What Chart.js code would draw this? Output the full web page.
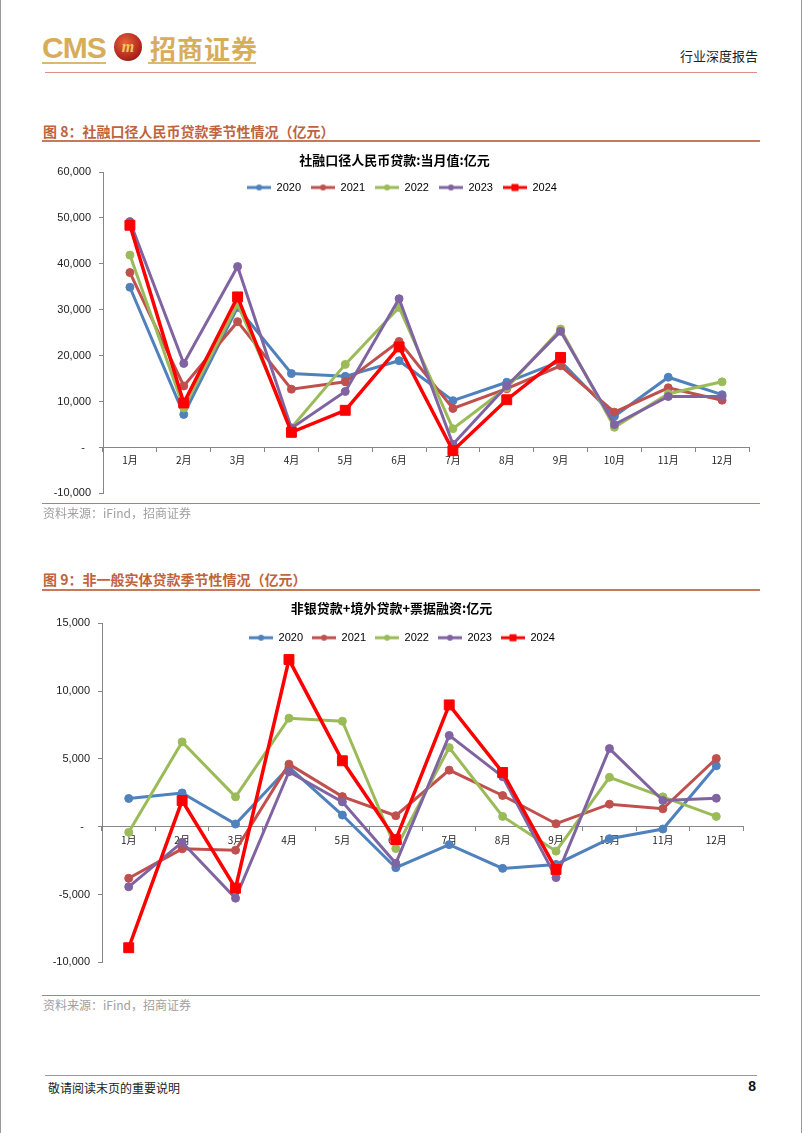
<!DOCTYPE html>
<html lang="zh-CN">
  <head>
    <meta charset="utf-8" />
    <title>社融口径人民币贷款季节性情况</title>
    <style>
      * {
        margin: 0;
        padding: 0;
      }
      body {
        width: 802px;
        height: 1133px;
        position: relative;
        background: #fff;
        font-family: "Liberation Sans", "Noto Sans CJK SC", sans-serif;
        overflow: hidden;
      }
      .abs {
        position: absolute;
      }
      .edge {
        position: absolute;
        top: 0;
        width: 1px;
        height: 1133px;
        background: #9a9a9a;
      }
      .logo {
        left: 42px;
        top: 31px;
        color: #d7ad5c;
        font-size: 30px;
        font-weight: bold;
        letter-spacing: -1px;
        font-family: "Liberation Sans Narrow", "Liberation Sans", sans-serif;
      }
      .logo2 {
        left: 150px;
        top: 29px;
        color: #d7ad5c;
        font-size: 26px;
        font-weight: bold;
        font-family: "Noto Sans CJK SC", sans-serif;
        letter-spacing: 1px;
      }
      .badge {
        left: 114px;
        top: 33px;
        width: 28px;
        height: 28px;
        border-radius: 50%;
        background: radial-gradient(circle at 40% 35%, #e8643a, #a8201a 70%, #7a1410);
        color: #f3c85b;
        font: italic bold 16px "Liberation Serif", serif;
        text-align: center;
        line-height: 28px;
      }
      .gold {
        height: 2px;
        background: #d9b874;
        top: 62px;
      }
      .report {
        right: 44px;
        top: 46px;
        font-size: 13px;
        color: #222;
        font-family: "Noto Sans CJK SC", sans-serif;
      }
      .figtitle {
        left: 43px;
        font-size: 14px;
        font-weight: bold;
        color: #c0633c;
        font-family: "Noto Sans CJK SC", sans-serif;
      }
      .rule {
        left: 42px;
        width: 718px;
        background: #c77a5a;
      }
      .source {
        left: 43px;
        font-size: 12px;
        color: #a0a0a0;
        font-family: "Noto Sans CJK SC", sans-serif;
      }
      .chartBox {
        position: absolute;
        left: 40px;
        width: 720px;
      }
    </style>
  </head>
  <body>
    <div class="edge" style="left: 0"></div>
    <div class="edge" style="left: 801px"></div>

    <div class="abs logo">CMS</div>
    <div class="abs badge">m</div>
    <div class="abs logo2">招商证券</div>
    <div class="abs gold" style="left: 42px; width: 64px"></div>
    <div class="abs gold" style="left: 148px; width: 108px"></div>
    <div class="abs report">行业深度报告</div>
    <div class="abs" style="left: 45px; top: 72px; width: 712px; height: 1px; background: #dd8f86"></div>

    <div class="abs figtitle" style="top: 121px">图 8：社融口径人民币贷款季节性情况（亿元）</div>
    <div class="abs rule" style="top: 140px; height: 2px"></div>
    <div class="chartBox" style="top: 148px; height: 360px">
      <canvas id="chart1" width="720" height="360"></canvas>
    </div>
    <div class="abs rule" style="top: 503px; height: 1px"></div>
    <div class="abs source" style="top: 504px">资料来源：iFind，招商证券</div>

    <div class="abs figtitle" style="top: 569px">图 9：非一般实体贷款季节性情况（亿元）</div>
    <div class="abs rule" style="top: 589px; height: 2px"></div>
    <div class="chartBox" style="top: 596px; height: 381px">
      <canvas id="chart2" width="720" height="381"></canvas>
    </div>
    <div class="abs rule" style="top: 995px; height: 1px"></div>
    <div class="abs source" style="top: 996px">资料来源：iFind，招商证券</div>

    <div class="abs" style="left: 45px; top: 1075px; width: 712px; height: 1px; background: #9a9a9a"></div>
    <div class="abs" style="left: 48px; top: 1079px; font-size: 12px; color: #222; font-family: 'Noto Sans CJK SC', sans-serif">敬请阅读末页的重要说明</div>
    <div class="abs" style="right: 46px; top: 1078px; font-size: 14px; font-weight: bold; color: #111">8</div>

    <script src="https://cdn.jsdelivr.net/npm/chart.js/dist/chart.umd.min.js"></script>
    <script>
      // setup
      const months = ["1月", "2月", "3月", "4月", "5月", "6月", "7月", "8月", "9月", "10月", "11月", "12月"];
      const years = ["2020", "2021", "2022", "2023", "2024"];
      const colors = ["#4f81bd", "#c0504d", "#9bbb59", "#8064a2", "#ff0000"];

      // 社融口径人民币贷款:当月值 (亿元)
      const loan2020 = [34900, 7200, 30500, 16100, 15500, 18900, 10200, 14200, 18800, 6800, 15300, 11500];
      const loan2021 = [38100, 13400, 27400, 12700, 14300, 23100, 8500, 12800, 17800, 7700, 13000, 10300];
      const loan2022 = [41900, 8600, 31200, 4300, 18100, 30500, 4100, 13000, 25800, 4400, 11700, 14300];
      const loan2023 = [49200, 18300, 39400, 4200, 12200, 32400, 700, 13400, 25300, 5000, 11100, 11100];
      const loan2024 = [48400, 9700, 32800, 3300, 8100, 21900, -700, 10400, 19600];

      // 非银贷款+境外贷款+票据融资 (亿元)
      const other2020 = [2080, 2490, 200, 4400, 860, -3020, -1320, -3070, -2780, -880, -170, 4490];
      const other2021 = [-3800, -1630, -1730, 4610, 2220, 810, 4170, 2300, 220, 1660, 1320, 5030];
      const other2022 = [-410, 6250, 2200, 8000, 7780, -1610, 5830, 760, -1800, 3640, 2200, 760];
      const other2023 = [-4430, -1140, -5270, 4050, 1830, -2700, 6730, 3690, -3750, 5760, 1930, 2100];
      const other2024 = [-8920, 1930, -4530, 12320, 4860, -950, 8980, 4000, -3150];

      const tickFont = { family: "'Liberation Sans', 'Noto Sans CJK SC'", size: 11 };
      const axisGray = "#868686";

      // little line+marker picture for the legend
      function legendIcon(color, square) {
        const c = document.createElement("canvas");
        c.width = 24;
        c.height = 12;
        const ctx = c.getContext("2d");
        ctx.strokeStyle = color;
        ctx.fillStyle = color;
        ctx.lineWidth = 3;
        ctx.beginPath();
        ctx.moveTo(0, 6);
        ctx.lineTo(24, 6);
        ctx.stroke();
        ctx.beginPath();
        if (square) ctx.rect(8.5, 2.5, 7, 7);
        else ctx.arc(12, 6, 3, 0, Math.PI * 2);
        ctx.fill();
        return c;
      }

      function makeDatasets(series) {
        return series.map((values, i) => {
          const last = i === years.length - 1;
          return {
            label: years[i],
            data: values,
            borderColor: colors[i],
            backgroundColor: colors[i],
            borderWidth: last ? 3.5 : 3,
            pointStyle: last ? "rect" : "circle",
            pointRadius: last ? 7 : 4,
            pointBorderWidth: 1,
            order: years.length - i,
            tension: 0,
          };
        });
      }

      // legend sits inside the plot, in one row, centred on the canvas
      const legendInPlot = {
        id: "legendInPlot",
        beforeLayout(chart) {
          chart.legend.isHorizontal = () => true;
        },
        afterLayout(chart) {
          const lg = chart.legend;
          const w = lg.right - lg.left;
          lg.top = chart.chartArea.top;
          lg.left = chart.width / 2 + 2 - w / 2;
          lg.right = lg.left + w;
        },
      };

      function buildChart(id, title, series, min, max, step, geo) {
        return new Chart(document.getElementById(id), {
          type: "line",
          data: { labels: months, datasets: makeDatasets(series) },
          plugins: [legendInPlot],
          options: {
            responsive: false,
            animation: false,
            layout: { padding: { top: 0, left: 0, right: geo.right, bottom: 12 } },
            plugins: {
              title: {
                display: true,
                text: title,
                color: "#000",
                font: { family: "'Noto Sans CJK SC'", size: 13, weight: "bold" },
                padding: { top: geo.titleTop, bottom: geo.titleBottom },
              },
              legend: {
                position: "chartArea",
                align: "center",
                labels: {
                  usePointStyle: true,
                  pointStyleWidth: 24,
                  padding: geo.legendPad,
                  color: "#000",
                  font: tickFont,
                  generateLabels: (chart) =>
                    chart.data.datasets.map((ds, i) => ({
                      text: ds.label,
                      pointStyle: legendIcon(ds.borderColor, ds.pointStyle === "rect"),
                      datasetIndex: i,
                      lineWidth: 0,
                      fontColor: "#000",
                    })),
                },
              },
              tooltip: { enabled: false },
            },
            scales: {
              x: {
                position: { y: 0 },
                offset: true,
                border: { display: true, color: axisGray, width: 1 },
                grid: { display: true, drawOnChartArea: false, drawTicks: true, tickLength: 4, color: axisGray, offset: true },
                ticks: { color: "#222", font: { family: "'Noto Sans CJK SC'", size: 10 }, padding: 3, maxRotation: 0, autoSkip: false },
              },
              y: {
                min: min,
                max: max,
                afterFit: (scale) => {
                  scale.width = geo.axisWidth;
                },
                border: { display: true, color: axisGray, width: 1 },
                grid: { display: true, drawOnChartArea: false, drawTicks: true, tickLength: 4, color: axisGray },
                ticks: {
                  stepSize: step,
                  color: "#222",
                  font: tickFont,
                  padding: 8,
                  callback: (v) => (v === 0 ? "-  " : v.toLocaleString("en-US")),
                },
              },
            },
          },
        });
      }

      // render init block
      const chart1 = buildChart(
        "chart1",
        "社融口径人民币贷款:当月值:亿元",
        [loan2020, loan2021, loan2022, loan2023, loan2024],
        -10000,
        60000,
        10000,
        { right: 11, axisWidth: 63, titleTop: 4, titleBottom: 4.4, legendPad: 10 }
      );

      const chart2 = buildChart(
        "chart2",
        "非银贷款+境外贷款+票据融资:亿元",
        [other2020, other2021, other2022, other2023, other2024],
        -10000,
        15000,
        5000,
        { right: 17, axisWidth: 62, titleTop: 4, titleBottom: 7.6, legendPad: 9 }
      );
    </script>
  </body>
</html>
